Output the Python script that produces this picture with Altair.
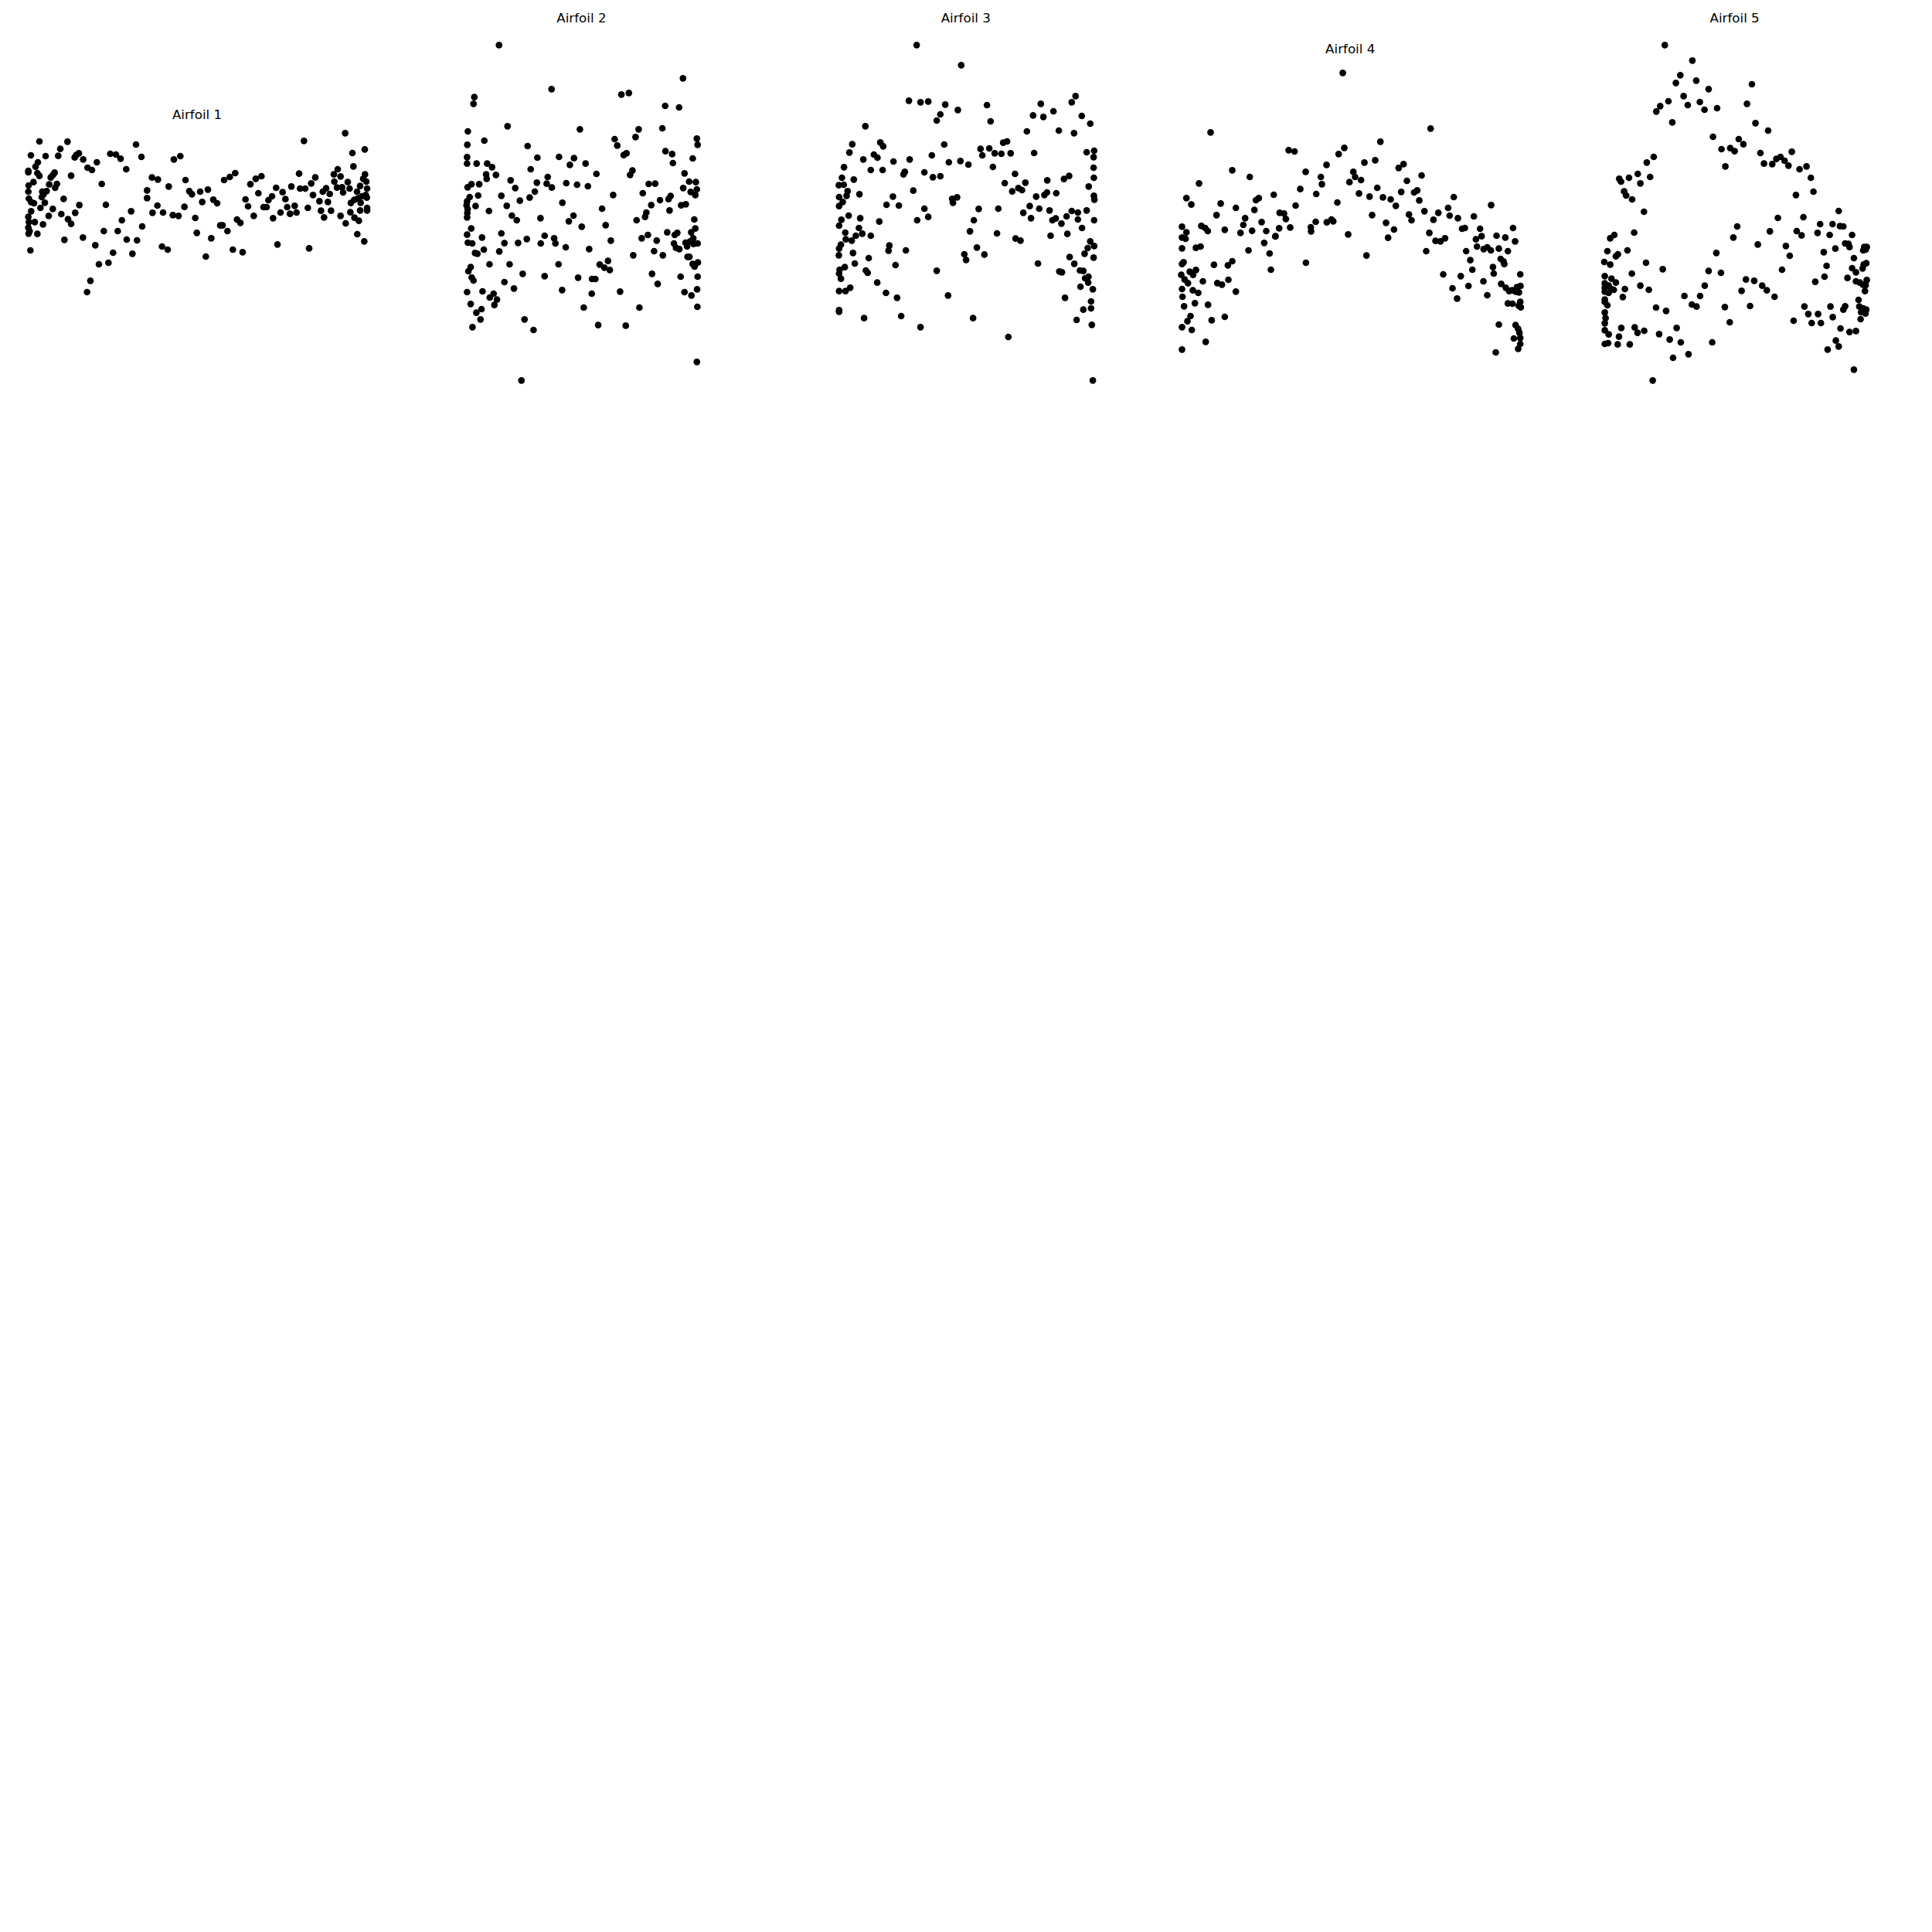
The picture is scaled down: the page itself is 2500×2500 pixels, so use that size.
import altair as alt
import pandas as pd

# Panel titles
TITLES = ["Airfoil 1", "Airfoil 2", "Airfoil 3", "Airfoil 4", "Airfoil 5"]

# Point values (x, y) for each airfoil; y grows downward
AIRFOIL_1 = [
    (93,162),(202,163),(468,174),(174,191),(60,216),(117,219),(166,218),(230,224),(246,208),(263,232),(236,215),
    (368,210),(390,213),(408,229),(489,222),(316,243),(280,264),(297,273),(430,270),(87,243),(78,260),
    (50,276),(50,282),(85,285),(93,296),(216,295),(152,283),(145,293),(137,302),(70,320),(51,333),
    (131,329),(161,327),(154,342),(335,327),(50,357),(104,357),(121,355),(109,367),(52,384),(187,385),(102,378),
    (61,398),(72,402),(114,400),(97,420),(145,424),(248,409),(351,408),(61,433),(50,455),(129,451),(178,444),
    (232,439),(449,433),(52,475),(75,475),(204,464),(216,482),(413,468),(107,484),(50,497),(55,510),(51,520),
    (85,521),(343,510),(397,510),(492,492),(190,544),(262,535),(432,543),(472,546),(310,565),(58,585),
    (379,594),(454,598),(324,639),(361,633),(291,703),(278,747),
    (615,232),(640,219),(530,302),(553,310),(660,312),(595,337),(511,352),(511,382),(675,355),(685,367),
    (717,357),(747,349),(725,397),(768,388),(783,402),(551,411),(532,439),(573,438),(611,448),(633,451),
    (656,416),(698,459),(795,488),(804,488),(823,510),(704,517),(760,538),(569,570),(591,582),(739,609),
    (844,582),(882,592),(810,312),(832,300),(853,285),(860,465),(873,478),(893,387),(903,414),(912,328),
    (933,307),(955,297),(943,363),(925,451),(963,417),(975,417),(982,390),(996,375),(1012,342),(1037,359),
    (1048,386),(1071,337),(1000,460),(1029,438),(1055,417),(1066,443),(1084,412),(1091,438),(1017,562),
    (1120,160),(1101,287),(1105,345),(1125,345),(1135,420),(1140,577),(1148,325),(1164,302),(1155,370),
    (1186,431),(1198,457),(1180,394),(1193,357),(1206,344),(1220,366),(1213,397),(1225,431),(1236,290),
    (1251,270),(1262,298),(1238,318),(1248,341),(1272,360),(1268,340),(1290,320),(1297,345),(1262,451),
    (1282,480),(1280,130),(1308,207),(1312,259),(1356,193),(1300,437),(1316,458),(1333,470),(1327,522),
    (1354,550),(1302,401),(1315,389),(1330,383),(1326,357),(1338,335),(1357,290),(1350,307),(1362,318),
    (1365,345),(1360,370),(1345,375),(1364,380),(1338,430),(1365,430),(1365,420),(1340,400),
]

AIRFOIL_2 = [
    (166,178),(370,349),(880,307),(70,380),(67,406),(641,370),(670,364),(811,414),(865,420),
    (199,493),(480,505),(708,505),(800,501),(696,535),(45,513),(109,549),(43,565),(277,570),(615,543),
    (625,568),(934,541),(937,565),(42,613),(42,638),(79,638),(120,638),(139,652),(154,682),(116,680),
    (118,697),(315,615),(399,612),(457,617),(441,643),(502,638),(544,678),(289,660),(650,605),(661,598),
    (812,590),(838,601),(841,636),(918,618),(684,665),(675,682),(211,703),(229,733),(59,718),(89,718),
    (44,730),(85,762),(52,768),(313,712),(355,690),(351,716),(371,731),(427,714),(469,720),(511,726),
    (886,676),(904,708),(930,710),(747,717),(772,716),(881,733),(42,785),(40,800),(44,815),(75,803),
    (43,830),(42,847),(127,822),(175,763),(196,802),(247,782),(285,770),(305,747),(412,790),(609,760),
    (724,753),(910,748),(934,738),(928,760),(791,780),(824,776),(832,764),(757,799),(873,800),(891,796),
    (828,820),(566,813),(216,840),(235,858),(327,850),(437,862),(455,840),(733,845),(738,828),(700,858),
    (487,883),(580,877),(924,855),(58,890),(42,914),(100,925),(175,909),(45,945),(62,948),(187,947),
    (240,946),(274,931),(343,918),(328,948),(380,928),(385,948),(425,963),(600,937),(720,928),(744,915),
    (778,937),(819,905),(848,915),(858,907),(928,890),(912,905),(920,928),(845,948),(853,965),(866,970),
    (890,945),(896,960),(908,940),(921,950),(937,948),(73,985),(82,988),(107,972),(167,979),(516,970),
    (687,994),(768,978),(802,994),(898,1000),(905,1000),(918,1028),(938,1022),(925,1038),(129,1029),
    (207,1029),(397,1029),(557,1030),(575,1042),(589,1016),(596,1051),(56,1040),(47,1056),(60,1080),
    (67,1092),(258,1066),(343,1075),(473,1081),(527,1086),(540,1086),(760,1066),(871,1077),(937,1077),
    (187,1098),(224,1123),(782,1105),(42,1137),(102,1134),(411,1129),(526,1143),(636,1135),(886,1137),
    (913,1150),(935,1126),(130,1158),(145,1143),(158,1166),(148,1187),(56,1183),(78,1217),(98,1203),
    (94,1243),(63,1273),(265,1243),(300,1284),(495,1197),(551,1265),(658,1267),(711,1197),(936,1194),
    (934,1408),(253,1480),
]

AIRFOIL_3 = [
    (346,178),(519,256),(316,394),(361,400),(391,397),(457,409),(506,430),(438,447),(424,471),(619,411),
    (633,474),(147,493),(828,406),(963,376),(948,400),(877,435),(798,451),(838,457),(987,453),(1020,483),
    (898,510),(957,520),(774,513),(96,563),(85,595),(205,556),(216,571),(180,603),(194,615),(139,622),
    (256,630),(319,622),(405,606),(453,564),(471,633),(516,628),(547,642),(594,581),(601,606),(628,579),
    (649,598),(675,600),(682,557),(697,552),(711,598),(642,651),(802,597),(1006,594),(1035,588),(1033,613),
    (1033,654),(1034,693),(64,652),(168,663),(214,663),(295,680),(300,670),(376,672),(409,691),(438,687),
    (56,693),(44,722),(63,720),(102,700),(78,745),(74,763),(45,768),(59,787),(45,803),(124,757),
    (254,766),(229,798),(277,801),(333,743),(484,775),(503,769),(487,790),(688,714),(717,746),(728,678),
    (741,733),(755,741),(768,712),(853,703),(918,698),(938,686),(1014,727),(888,753),(852,750),(842,760),
    (810,766),(1034,763),(1036,778),(82,840),(54,856),(45,879),(127,850),(201,863),(348,858),(376,813),
    (391,845),(568,858),(587,814),(663,813),(785,803),(822,813),(760,829),(790,850),(862,820),(873,858),
    (886,851),(908,871),(928,843),(948,822),(972,828),(972,855),(1006,820),(1035,858),(988,888),(69,906),
    (71,932),(94,937),(110,918),(122,888),(135,910),(168,918),(553,901),(658,909),(730,929),(749,937),
    (866,918),(931,911),(52,953),(45,968),(44,994),(99,985),(240,956),(237,976),(304,975),(531,990),
    (538,1012),(580,964),(609,991),(1020,940),(1010,966),(1035,958),(998,988),(1033,1003),(160,1005),
    (106,1026),(264,1032),(817,1026),(940,1001),(958,1027),(47,1050),(67,1040),(45,1065),(52,1085),
    (149,1053),(156,1062),(424,1054),(900,1057),(910,1060),(980,1053),(993,1055),(1000,1083),(1013,1077),
    (1012,1100),(982,1116),(1030,1126),(45,1133),(70,1133),(88,1120),(193,1100),(227,1140),(270,1159),
    (468,1150),(922,1159),(1023,1173),(1023,1200),(993,1205),(45,1207),(45,1213),(142,1238),(286,1230),
    (361,1273),(565,1238),(967,1245),(1026,1264),(702,1311),(1030,1480),
]

AIRFOIL_4 = [
    (679,166),(166,397),(1020,382),(825,433),(685,457),(663,481),(469,466),(492,471),(805,505),(763,514),
    (616,523),(535,550),(594,570),(598,598),(720,550),(727,570),(750,582),(705,590),(250,544),(318,570),
    (121,595),(896,535),(915,520),(928,585),(985,564),(813,612),(906,628),(956,630),(968,622),(742,634),
    (783,646),(835,649),(865,657),(976,661),(885,682),(514,617),(576,636),(411,639),(353,652),(342,660),
    (496,681),(658,669),(72,652),(91,677),(205,673),(264,690),(189,718),(300,730),(336,698),(293,756),
    (434,709),(451,712),(458,733),(364,745),(432,769),(475,766),(417,801),(574,744),(555,765),(556,781),
    (617,746),(635,735),(642,742),(793,718),(936,716),(946,738),(847,748),(878,774),(855,806),(700,793),
    (996,703),(1031,736),(1050,709),(1088,690),(1094,720),(1110,648),(1126,730),(1188,723),(1015,787),
    (1039,818),(1058,820),(1076,808),(1142,771),(1153,768),(1212,771),(1255,679),(55,763),(72,785),
    (55,805),(69,810),(130,760),(145,768),(155,780),(221,775),(282,787),(327,779),(382,780),(55,847),
    (109,845),(127,840),(313,855),(374,826),(395,867),(418,800),(1003,858),(1158,858),(1196,812),
    (1218,800),(1200,840),(1226,850),(1240,843),(1254,855),(1276,798),(1310,805),(1340,768),(1348,820),
    (1285,848),(1320,858),(771,875),(536,903),(55,908),(61,901),(179,911),(233,913),(250,897),(85,938),
    (109,931),(52,950),(65,968),(78,982),(98,950),(136,975),(192,982),(210,988),(235,969),(400,930),
    (1174,893),(1182,930),(1292,888),(1303,898),(1306,908),(1262,920),(1265,945),(1368,948),(1069,948),
    (1137,955),(1105,1002),(1167,993),(1225,975),(1294,985),(1240,1029),(55,1005),(57,1035),(97,1010),
    (118,1020),(264,1015),(1123,1042),(1312,1000),(1325,1013),(1336,1010),(1355,998),(1369,993),
    (1350,1015),(1363,1018),(63,1072),(105,1060),(156,1066),(1320,1061),(1338,1062),(1362,1070),
    (1368,1055),(1370,1076),(88,1110),(76,1130),(55,1153),(93,1164),(170,1126),(221,1113),(1285,1143),
    (1350,1145),(1360,1160),(1365,1175),(1368,1195),(1343,1197),(1368,1218),(1360,1237),(1273,1251),
    (147,1210),(55,1240),
]

AIRFOIL_5 = [
    (278,178),(385,238),(338,295),(321,325),(400,316),(448,349),(616,330),(351,376),(292,396),(367,411),
    (414,399),(432,429),(481,423),(597,406),(260,415),(245,436),(307,478),(630,481),(679,510),(465,534),
    (565,543),(583,563),(498,582),(532,578),(549,590),(513,649),(649,597),(663,638),(695,640),(711,620),
    (727,612),(743,627),(758,646),(771,592),(801,660),(828,649),(845,693),(855,747),(787,760),(235,612),
    (208,634),(173,678),(221,690),(183,715),(139,693),(101,697),(108,708),(120,746),(128,762),(151,777),
    (197,825),(953,822),(816,846),(717,849),(929,873),(881,873),(958,881),(971,882),(559,882),(686,901),
    (790,900),(809,917),(871,907),(918,915),(1005,915),(544,925),(159,906),(82,915),(66,928),(639,952),
    (748,958),(763,996),(733,1050),(978,948),(991,950),(995,962),(940,968),(895,982),(1052,962),(1062,962),
    (1058,972),(1048,975),(55,978),(133,975),(96,990),(88,998),(478,985),(1012,1005),(1060,1025),
    (1050,1030),(1046,1045),(1005,1044),(1020,1060),(906,1035),(898,1077),(862,1097),(987,1082),(43,1020),
    (66,1030),(205,1023),(270,1048),(150,1065),(448,1055),(496,1062),(45,1075),(71,1085),(88,1100),
    (45,1103),(45,1120),(60,1112),(71,1125),(45,1135),(60,1140),(80,1128),(123,1125),(183,1112),(216,1128),
    (115,1156),(433,1112),(593,1088),(625,1093),(656,1112),(674,1130),(704,1155),(576,1132),(354,1152),
    (415,1152),(1020,1095),(1035,1100),(1047,1108),(1058,1110),(1055,1133),(1062,1090),(45,1166),(45,1175),
    (55,1188),(383,1185),(401,1193),(244,1197),(283,1210),(511,1195),(609,1191),(820,1193),(835,1222),
    (873,1222),(921,1193),(978,1192),(971,1205),(1030,1167),(1033,1193),(1048,1200),(1060,1205),(1040,1215),
    (1057,1220),(45,1216),(48,1238),(45,1258),(530,1254),(778,1248),(848,1257),(884,1257),(930,1234),
    (1038,1242),(45,1285),(60,1301),(109,1276),(161,1274),(172,1295),(198,1287),(256,1300),(324,1276),
    (960,1278),(995,1292),(1020,1288),(45,1338),(58,1335),(95,1340),(142,1340),(100,1310),(297,1321),
    (340,1332),(462,1332),(942,1325),(953,1348),(910,1360),(310,1392),(370,1378),(1012,1438),(231,1480),
]

PANELS = [AIRFOIL_1, AIRFOIL_2, AIRFOIL_3, AIRFOIL_4, AIRFOIL_5]

# Scale domains per panel (equal aspect, same units per pixel in x and y)
X_DOMAINS = [[0, 1410], [-219, 1191], [-168, 1242], [3, 1413], [-156, 1254]]
Y_DOMAINS = [[-282, 1158], [108, 1548], [108, 1548], [-12, 1428], [108, 1548]]
TITLE_OFFSETS = [-136, -11, -11, -51, -11]

W, H = 470, 480

charts = []
for i, pts in enumerate(PANELS):
    df = pd.DataFrame(pts, columns=["x", "y"])
    c = (
        alt.Chart(df)
        .mark_circle(size=75, color="black", opacity=1)
        .encode(
            x=alt.X("x:Q", axis=None, scale=alt.Scale(domain=X_DOMAINS[i], nice=False, zero=False)),
            y=alt.Y("y:Q", axis=None, scale=alt.Scale(domain=Y_DOMAINS[i], nice=False, zero=False, reverse=True)),
        )
        .properties(
            width=W,
            height=H,
            title=alt.TitleParams(
                TITLES[i],
                font="DejaVu Sans",
                fontSize=16.7,
                fontWeight="normal",
                color="black",
                baseline="alphabetic",
                anchor="middle",
                offset=TITLE_OFFSETS[i],
            ),
        )
    )
    charts.append(c)

chart = (
    alt.hconcat(*charts, spacing=27.4)
    .properties(padding={"left": 20, "top": 16, "right": 0, "bottom": 0})
    .configure(background="white")
    .configure_view(stroke="transparent", strokeWidth=0)
)

chart.save("out.html", embed_options={"renderer": "svg", "actions": False})
